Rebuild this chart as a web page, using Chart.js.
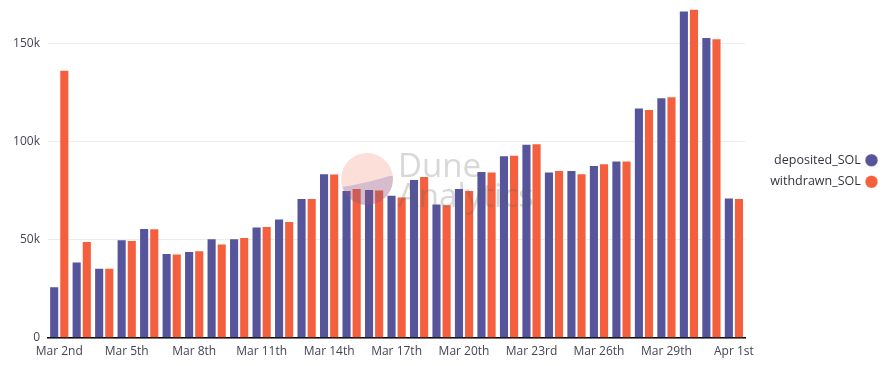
<!DOCTYPE html>
<html>
<head>
<meta charset="utf-8">
<script src="https://cdn.jsdelivr.net/npm/chart.js@4.4.1/dist/chart.umd.min.js"></script>
<style>
  html, body { margin: 0; padding: 0; background: #fff; }
  #wrap { width: 885px; height: 366px; position: relative; }
</style>
</head>
<body>
<div id="wrap"><canvas id="solChart"></canvas></div>
<script>
const days = ['Mar 2nd', 'Mar 3rd', 'Mar 4th', 'Mar 5th', 'Mar 6th', 'Mar 7th', 'Mar 8th', 'Mar 9th',
    'Mar 10th', 'Mar 11th', 'Mar 12th', 'Mar 13th', 'Mar 14th', 'Mar 15th', 'Mar 16th', 'Mar 17th',
    'Mar 18th', 'Mar 19th', 'Mar 20th', 'Mar 21st', 'Mar 22nd', 'Mar 23rd', 'Mar 24th', 'Mar 25th',
    'Mar 26th', 'Mar 27th', 'Mar 28th', 'Mar 29th', 'Mar 30th', 'Mar 31st', 'Apr 1st'];

const depositedSOL = [26400, 38900, 35800, 50200, 56000, 43300, 44300, 50800, 50800, 56700, 60800,
    71200, 83800, 75300, 75800, 72900, 80900, 68500, 76300, 85000, 93000, 98900, 84800, 85500,
    88000, 90400, 117300, 122500, 166700, 153200, 71500];

const withdrawnSOL = [136500, 49400, 35800, 49900, 55900, 43000, 44600, 48100, 51400, 57000, 59600,
    71300, 83700, 76300, 75600, 72000, 82400, 68100, 75300, 84800, 93300, 99100, 85500, 83900,
    88900, 90400, 116600, 123000, 167600, 152600, 71200];

const yTicks = [0, 50000, 100000, 150000];

// faint "Dune Analytics" watermark in the middle of the plot
const watermark = {
    id: 'watermark',
    afterDatasetsDraw(chart) {
        const ctx = chart.ctx;
        const cx = 367, cy = 179, r = 26;
        ctx.save();
        ctx.beginPath();
        ctx.arc(cx, cy, r, 0, Math.PI * 2);
        ctx.fillStyle = 'rgba(246, 110, 80, 0.22)';
        ctx.fill();
        ctx.beginPath();
        ctx.moveTo(cx - r * 0.95, cy + 8);
        ctx.quadraticCurveTo(cx, cy + 4, cx + r, cy - 4);
        ctx.arc(cx, cy, r, -0.15, Math.PI - 0.3, false);
        ctx.closePath();
        ctx.fillStyle = 'rgba(70, 70, 160, 0.22)';
        ctx.fill();
        ctx.fillStyle = 'rgba(90, 90, 90, 0.24)';
        ctx.font = '33px "Open Sans", sans-serif';
        ctx.textBaseline = 'alphabetic';
        ctx.fillText('Dune', 398, 177);
        ctx.fillText('Analytics', 398, 207);
        ctx.restore();
    }
};

new Chart(document.getElementById('solChart'), {
    type: 'bar',
    data: {
        labels: days,
        datasets: [{
            label: 'deposited_SOL',
            data: depositedSOL,
            backgroundColor: '#56559b',
            borderColor: 'rgba(255, 255, 255, 0.35)',
            borderWidth: 1,
            categoryPercentage: 0.9,
            barPercentage: 1.0
        }, {
            label: 'withdrawn_SOL',
            data: withdrawnSOL,
            backgroundColor: '#f4603e',
            borderColor: 'rgba(255, 255, 255, 0.35)',
            borderWidth: 1,
            categoryPercentage: 0.9,
            barPercentage: 1.0
        }]
    },
    options: {
        responsive: true,
        maintainAspectRatio: false,
        animation: false,
        layout: { padding: { left: 0, right: 0, top: 4, bottom: 0 } },
        plugins: {
            tooltip: { enabled: false },
            legend: {
                position: 'right',
                fullSize: false,
                rtl: true,
                textDirection: 'ltr',
                labels: {
                    usePointStyle: true,
                    pointStyle: 'circle',
                    boxWidth: 9,
                    boxHeight: 9,
                    padding: 9,
                    color: '#333340',
                    font: { family: '"Open Sans", sans-serif', size: 12.5 }
                }
            }
        },
        scales: {
            x: {
                grid: { display: false, drawTicks: false },
                border: { display: true, color: '#000', width: 1.5 },
                afterFit: function (scale) {
                    scale.height = 28;
                    scale.paddingLeft = 0;
                    scale.paddingRight = 0;
                },
                ticks: {
                    autoSkip: false,
                    maxRotation: 0,
                    padding: 6,
                    color: '#444455',
                    font: { family: '"Open Sans", sans-serif', size: 12 },
                    callback: function (value, index) {
                        return index % 3 === 0 ? days[index] : '';
                    }
                }
            },
            y: {
                min: 0,
                max: 170000,
                afterBuildTicks: function (axis) {
                    axis.ticks = yTicks.map(v => ({ value: v }));
                },
                afterFit: function (scale) {
                    scale.width = 48;
                    scale.paddingTop = 0;
                    scale.paddingBottom = 0;
                },
                grid: { color: '#ececec', drawTicks: false },
                border: { display: false },
                ticks: {
                    padding: 8,
                    color: '#444455',
                    font: { family: '"Open Sans", sans-serif', size: 12 },
                    callback: function (value) {
                        return value === 0 ? '0' : (value / 1000) + 'k';
                    }
                }
            },
            // empty axis only used to keep a gap between the bars and the legend
            gap: {
                type: 'linear',
                position: 'right',
                grid: { display: false, drawTicks: false },
                border: { display: false },
                ticks: { display: false },
                afterFit: function (scale) {
                    scale.width = 15;
                }
            }
        }
    },
    plugins: [watermark]
});
</script>
</body>
</html>
